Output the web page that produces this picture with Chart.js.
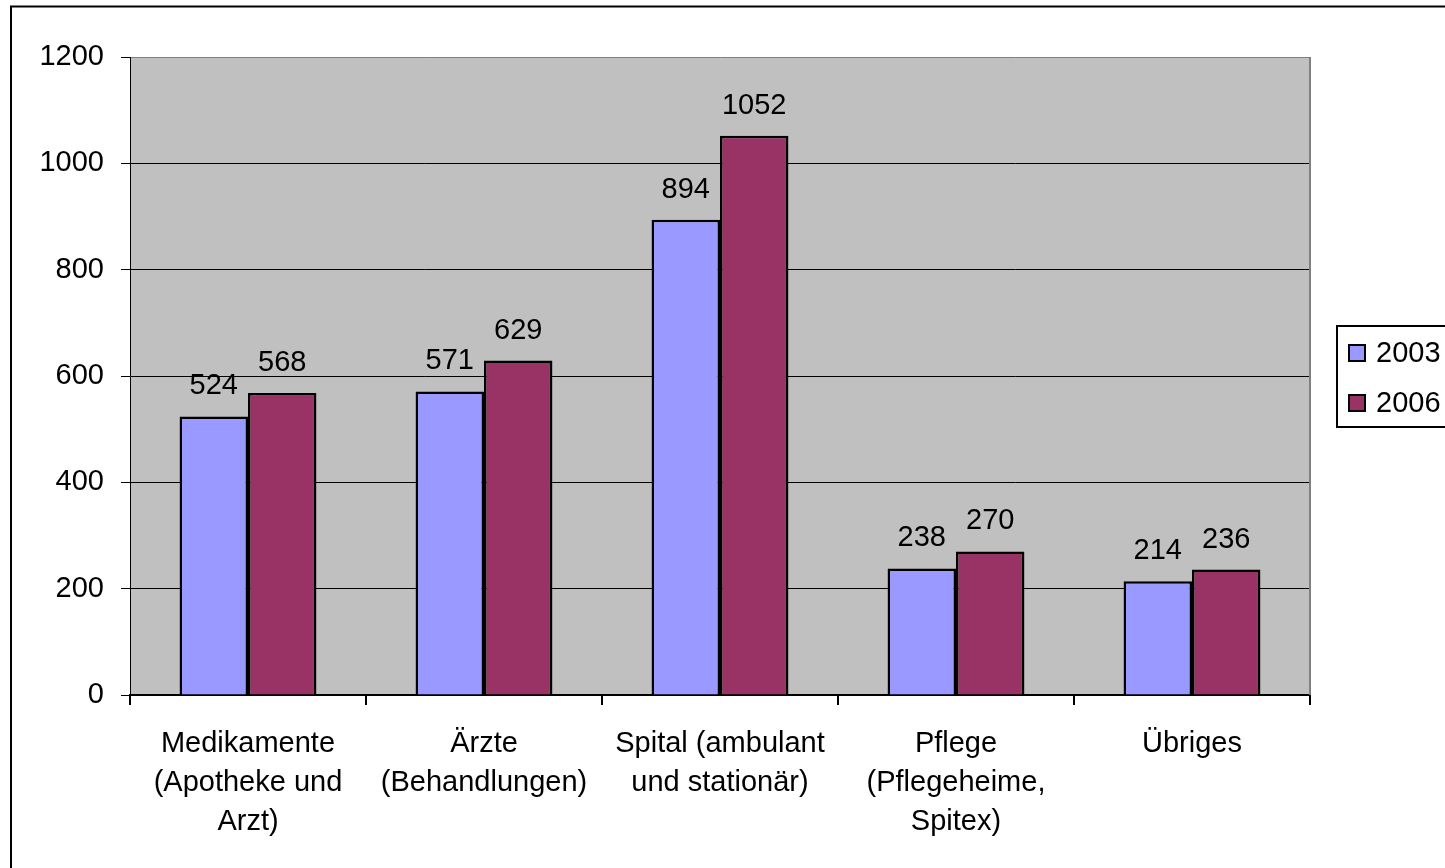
<!DOCTYPE html>
<html>
<head>
<meta charset="utf-8">
<script src="https://cdn.jsdelivr.net/npm/chart.js@4/dist/chart.umd.min.js"></script>
<style>
  html, body { margin: 0; padding: 0; background: #fff; }
  canvas { display: block; }
</style>
</head>
<body>
<canvas id="costChart" width="1445" height="868"></canvas>
<script>
/* -------------------------------------------------------
   DATA
------------------------------------------------------- */
const categories = [
  ["Medikamente", "(Apotheke und", "Arzt)"],
  ["Ärzte", "(Behandlungen)"],
  ["Spital (ambulant", "und stationär)"],
  ["Pflege", "(Pflegeheime,", "Spitex)"],
  ["Übriges"],
];
const seriesLabels = ["2003", "2006"];
const values2003 = [524, 571, 894, 238, 214];
const values2006 = [568, 629, 1052, 270, 236];
const yTicks = [0, 200, 400, 600, 800, 1000, 1200];

const FONT = "'Liberation Sans', Arial, sans-serif";
const FS = 29;
Chart.defaults.font.family = FONT;
Chart.defaults.font.size = FS;
Chart.defaults.color = "#000";

/* gray plot area, outer frame, legend box */
const frame = {
  id: "frame",
  beforeDraw(chart) {
    const { ctx, chartArea: a } = chart;
    ctx.save();
    ctx.fillStyle = "#fff";
    ctx.fillRect(0, 0, chart.width, chart.height);
    ctx.fillStyle = "#c0c0c0";
    ctx.fillRect(a.left, a.top, a.right - a.left, a.bottom - a.top);
    ctx.strokeStyle = "#000";
    ctx.lineWidth = 2;
    ctx.strokeRect(11, 6.5, chart.width + 20, chart.height + 20);
    ctx.restore();
  },
  beforeDatasetsDraw(chart) {
    const { ctx, chartArea: a } = chart;
    ctx.save();
    ctx.strokeStyle = "#808080";
    ctx.lineWidth = 2;
    ctx.beginPath();
    ctx.moveTo(a.right, a.top);
    ctx.lineTo(a.right, a.bottom);
    ctx.stroke();
    ctx.restore();
  },
  afterDraw(chart) {
    const { ctx } = chart;
    ctx.save();
    // legend box
    ctx.strokeStyle = "#000";
    ctx.lineWidth = 2;
    ctx.strokeRect(1337, 326, 200, 101);
    ctx.font = FS + "px " + FONT;
    ctx.textBaseline = "middle";
    ctx.textAlign = "left";
    chart.data.datasets.forEach((ds, i) => {
      const y = 353 + i * 50;
      ctx.fillStyle = ds.backgroundColor;
      ctx.fillRect(1349, y - 8, 16, 16);
      ctx.lineWidth = 2;
      ctx.strokeRect(1349, y - 8, 16, 16);
      ctx.fillStyle = "#000";
      ctx.fillText(ds.label, 1376, y + 1);
    });
    ctx.restore();
  },
};

/* value labels over the bars */
const valueLabels = {
  id: "valueLabels",
  afterDatasetsDraw(chart) {
    const { ctx } = chart;
    ctx.save();
    ctx.font = FS + "px " + FONT;
    ctx.fillStyle = "#000";
    ctx.textAlign = "center";
    ctx.textBaseline = "alphabetic";
    chart.data.datasets.forEach((ds, di) => {
      chart.getDatasetMeta(di).data.forEach((bar, i) => {
        ctx.fillText(String(ds.data[i]), bar.x, bar.y - 22);
      });
    });
    ctx.restore();
  },
};

new Chart(document.getElementById("costChart"), {
  type: "bar",
  data: {
    labels: categories,
    datasets: [
      {
        label: seriesLabels[0],
        data: values2003,
        backgroundColor: "#9999ff",
        borderColor: "#000",
        borderWidth: 2.5,
      },
      {
        label: seriesLabels[1],
        data: values2006,
        backgroundColor: "#993366",
        borderColor: "#000",
        borderWidth: 2.5,
      },
    ],
  },
  options: {
    responsive: false,
    animation: false,
    events: [],
    layout: { padding: { top: 57, right: 135, left: 0, bottom: 0 } },
    categoryPercentage: 0.58,
    barPercentage: 1,
    plugins: {
      legend: { display: false },
      tooltip: { enabled: false },
    },
    scales: {
      x: {
        offset: true,
        grid: {
          offset: true,
          drawOnChartArea: false,
          color: "#000",
          tickLength: 10,
          lineWidth: 2,
        },
        border: { color: "#000", width: 2 },
        ticks: {
          padding: 20,
          maxRotation: 0,
          autoSkip: false,
          font: { size: FS, lineHeight: 1.34 },
          color: "#000",
        },
        afterFit: (s) => { s.height = 868 - 695; },
      },
      y: {
        min: 0,
        max: 1200,
        afterBuildTicks: (s) => { s.ticks = yTicks.map((v) => ({ value: v })); },
        grid: {
          color: (c) => (c.tick && c.tick.value === 1200 ? "#808080" : "#000"),
          tickColor: "#000",
          tickLength: 9,
          lineWidth: 1,
        },
        border: { color: "#000", width: 1 },
        ticks: {
          padding: 17,
          color: "#000",
          font: { size: FS },
          callback: (v) => String(v),
        },
        afterFit: (s) => { s.width = 130; },
      },
    },
  },
  plugins: [frame, valueLabels],
});
</script>
</body>
</html>
